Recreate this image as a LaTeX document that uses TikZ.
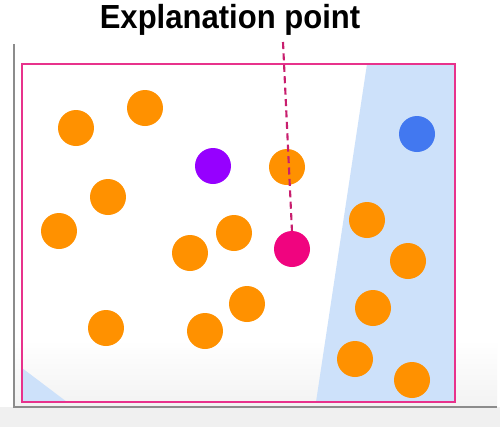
\documentclass[tikz,border=0pt]{standalone}
\usepackage{fontspec}
\setsansfont{Liberation Sans}
\usepackage{xcolor}
\usetikzlibrary{positioning}
\usetikzlibrary{calc}

\definecolor{framepink}{RGB}{232,50,140}
\definecolor{linepink}{RGB}{200,30,110}
\definecolor{ptpink}{RGB}{240,4,127}
\definecolor{ptorange}{RGB}{255,145,0}
\definecolor{ptpurple}{RGB}{150,0,255}
\definecolor{ptblue}{RGB}{66,120,240}
\definecolor{regionblue}{RGB}{205,225,250}

\begin{document}
\begin{tikzpicture}[x=0.02cm,y=-0.02cm,
    ball/.style={circle,inner sep=0pt,minimum size=0.72cm},
    orangeball/.style={ball,fill=ptorange},
    title/.style={font=\sffamily\bfseries\fontsize{19}{22}\selectfont,anchor=base,xscale=0.93}]
    \useasboundingbox (0,0) rectangle (500,427);

    % window background
    \fill[white] (0,0) rectangle (500,427);
    \shade[top color=white,bottom color=black!5] (14,340) rectangle (497,407);
    \fill[black!6] (0,407) rectangle (500,427);
    \draw[black!45,line width=0.6pt] (14,44) -- (14,407) -- (497,407);

    % regions
    \fill[regionblue] (367,64) -- (454,64) -- (454,402) -- (316,402) -- cycle;
    \fill[regionblue] (22,368) -- (67,402) -- (22,402) -- cycle;
    \draw[framepink,line width=1.2pt] (22,64) rectangle (455,402);

    \node[title] (caption) at (230,28) {Explanation point};

    % points
    \node[orangeball] (o1) at (76,128) {};
    \node[orangeball] (o2) at (145,108) {};
    \node[orangeball] (o3) at (108,197) {};
    \node[orangeball] (o4) at (59,231) {};
    \node[orangeball] (o5) at (190,253) {};
    \node[orangeball] (o6) at (234,233) {};
    \node[orangeball] (o7) at (106,328) {};
    \node[orangeball] (o8) at (205,331) {};
    \node[orangeball] (o9) at (247,304) {};
    \node[orangeball] (o10) at (287,167) {};
    \node[orangeball] (o11) at (367,220) {};
    \node[orangeball] (o12) at (408,261) {};
    \node[orangeball] (o13) at (373,308) {};
    \node[orangeball] (o14) at (355,359) {};
    \node[orangeball] (o15) at (412,380) {};
    \node[ball,fill=ptpurple] (purple) at (213,166) {};
    \node[ball,fill=ptblue] (blue) at (417,134) {};

    \coordinate (top) at (283,42);
    \draw[linepink,dash pattern=on 4pt off 2.5pt,line width=1.2pt] (top) -- (292,232);
    \node[ball,fill=ptpink] (explained) at (292,249) {};
\end{tikzpicture}
\end{document}
